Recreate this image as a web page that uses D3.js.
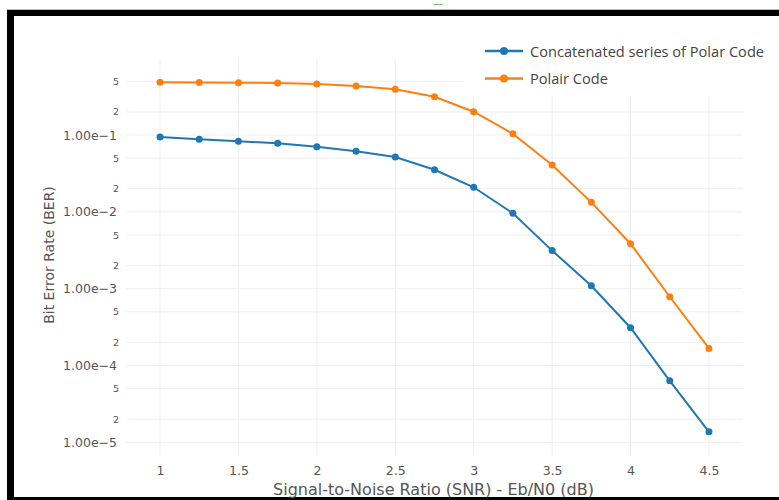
<!DOCTYPE html>
<html><head><meta charset="utf-8">
<script src="https://cdn.jsdelivr.net/npm/d3@7"></script>
<style>html,body{margin:0;padding:0;background:#fff;overflow:hidden}</style>
</head><body>
<svg id="c" width="779" height="500"></svg>
<script>
const snr = [1, 1.25, 1.5, 1.75, 2, 2.25, 2.5, 2.75, 3, 3.25, 3.5, 3.75, 4, 4.25, 4.5];
const berConcat = [0.094, 0.088, 0.083, 0.078, 0.0704, 0.0613, 0.0517, 0.0353, 0.0209, 0.00956, 0.00313, 0.00109, 0.00031, 0.0000632, 0.0000137];
const berPolair = [0.485, 0.481, 0.48, 0.475, 0.461, 0.434, 0.393, 0.315, 0.201, 0.104, 0.0407, 0.0133, 0.00385, 0.000785, 0.000167];
const seriesNames = ["Concatenated series of Polar Code", "Polair Code"];
const seriesColors = ["#1f77b4", "#ff7f0e"];
const xTicks = [1, 1.5, 2, 2.5, 3, 3.5, 4, 4.5];
const yMajorTicks = [1e-1, 1e-2, 1e-3, 1e-4, 1e-5];
const yMinorTicks = [5e-1, 2e-1, 5e-2, 2e-2, 5e-3, 2e-3, 5e-4, 2e-4, 5e-5, 2e-5];
const xTitle = "Signal-to-Noise Ratio (SNR) - Eb/N0 (dB)";
const yTitle = "Bit Error Rate (BER)";

const svg = d3.select("#c");
const L = 126, R = 743, T = 59, B = 455;
const x = d3.scaleLinear().domain([0.783, 4.717]).range([L, R]);
const y = d3.scaleLog().domain([Math.pow(10, -5.165), Math.pow(10, -0.0104)]).range([B, T]);

const tickFont = "DejaVu Sans, Verdana, sans-serif";

// frame
svg.append("line").attr("x1", 7).attr("x2", 779).attr("y1", 9.5).attr("y2", 9.5).attr("stroke", "#bbb").attr("stroke-width", 1);
svg.append("rect").attr("x", 7).attr("y", 10).attr("width", 772).attr("height", 6).attr("fill", "#000");
svg.append("rect").attr("x", 7).attr("y", 10).attr("width", 7).attr("height", 490).attr("fill", "#000");
svg.append("rect").attr("x", 7).attr("y", 497).attr("width", 772).attr("height", 3).attr("fill", "#000");
// tiny green squiggle
svg.append("path").attr("d", "M433,5 l1,-1 l1,1 l1,-1 l1,1 l1,-1 l1,1 l1,-1 l1,1 l1,-1 l1,1")
  .attr("fill", "none").attr("stroke", "#5cb85c").attr("stroke-width", 0.8);

// grid
const g = svg.append("g");
g.selectAll(".vg").data(xTicks).join("line")
  .attr("x1", d => x(d)).attr("x2", d => x(d)).attr("y1", T).attr("y2", B)
  .attr("stroke", "#eee").attr("stroke-width", 1);
g.selectAll(".hg").data(yMajorTicks.concat(yMinorTicks)).join("line")
  .attr("x1", L).attr("x2", R).attr("y1", d => y(d)).attr("y2", d => y(d))
  .attr("stroke", "#eee").attr("stroke-width", 1);

// x axis labels
const xAxis = d3.axisBottom(x).tickValues(xTicks).tickSize(0).tickPadding(0).tickFormat(d3.format("~g"));
const xg = svg.append("g").attr("transform", `translate(0,${B})`).call(xAxis);
xg.select(".domain").remove();
xg.selectAll("text").attr("y", 20).attr("dy", 0).attr("font-family", tickFont).attr("font-size", 12.5).attr("fill", "#555");

// y axis labels
const yAxisMaj = d3.axisLeft(y).tickValues(yMajorTicks).tickSize(0).tickPadding(9)
  .tickFormat(d => "1.00e\u2212" + Math.round(-Math.log10(d)));
const yg = svg.append("g").attr("transform", `translate(${L},0)`).call(yAxisMaj);
yg.select(".domain").remove();
yg.selectAll("text").attr("font-family", tickFont).attr("font-size", 12.5).attr("fill", "#555");
const yAxisMin = d3.axisLeft(y).tickValues(yMinorTicks).tickSize(0).tickPadding(7)
  .tickFormat(d => String(Math.round(d / Math.pow(10, Math.floor(Math.log10(d) + 1e-9)))));
const ym = svg.append("g").attr("transform", `translate(${L},0)`).call(yAxisMin);
ym.select(".domain").remove();
ym.selectAll("text").attr("font-family", tickFont).attr("font-size", 9.5).attr("fill", "#555");

// titles
svg.append("text").attr("x", (L + R) / 2 - 1).attr("y", 495).attr("text-anchor", "middle")
  .attr("font-family", tickFont).attr("font-size", 16).attr("fill", "#555").text(xTitle);
svg.append("text").attr("transform", "translate(54,255) rotate(-90)").attr("text-anchor", "middle")
  .attr("font-family", tickFont).attr("font-size", 14).attr("fill", "#555").text(yTitle);

// legend background
svg.append("rect").attr("x", 462).attr("y", 36).attr("width", 310).attr("height", 61).attr("fill", "#fff");

// series
const line = d3.line().x(d => x(d[0])).y(d => y(d[1]));
[berConcat, berPolair].forEach((vals, i) => {
  const pts = snr.map((s, k) => [s, vals[k]]);
  svg.append("path").datum(pts).attr("d", line).attr("fill", "none")
    .attr("stroke", seriesColors[i]).attr("stroke-width", 2);
  svg.append("g").selectAll("circle").data(pts).join("circle")
    .attr("cx", d => x(d[0])).attr("cy", d => y(d[1])).attr("r", 3.5).attr("fill", seriesColors[i]);
});

// legend
seriesNames.forEach((name, i) => {
  const ly = 51 + i * 27.5;
  const lg = svg.append("g");
  lg.append("line").attr("x1", 485).attr("x2", 523).attr("y1", ly).attr("y2", ly)
    .attr("stroke", seriesColors[i]).attr("stroke-width", 2.5);
  lg.append("circle").attr("cx", 504).attr("cy", ly).attr("r", 4).attr("fill", seriesColors[i]);
  lg.append("text").attr("x", 530).attr("y", ly + 5.5).attr("font-family", "Open Sans, sans-serif")
    .attr("font-size", 14.6).attr("fill", "#444").text(name);
});
</script>
</body></html>
